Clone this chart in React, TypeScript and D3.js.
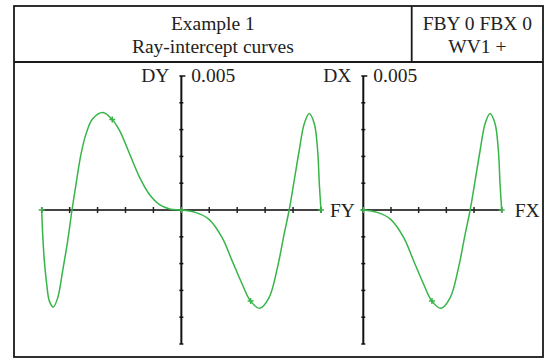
import React from "react";
import * as d3 from "d3";

// ray-intercept curve, tangential fan: [FY, DY]
const fyValues = [
  -1, -0.993, -0.981, -0.964, -0.945, -0.917, -0.885, -0.85, -0.814, -0.783,
  -0.754, -0.718, -0.682, -0.634, -0.562, -0.495, -0.443, -0.371, -0.299,
  -0.228, -0.156, -0.084, 0, 0.1, 0.196, 0.292, 0.364, 0.436, 0.496, 0.561,
  0.628, 0.688, 0.736, 0.772, 0.808, 0.844, 0.88, 0.916, 0.952, 0.976, 0.988,
  1,
];
const dyValues = [
  0, -0.0009, -0.0019, -0.00277, -0.0034, -0.00362, -0.00327, -0.00227,
  -0.00115, 0, 0.00097, 0.0021, 0.00285, 0.00341, 0.00364, 0.00338, 0.00297,
  0.0021, 0.00122, 0.00058, 0.0002, 0.00004, 0, -0.00009, -0.00034, -0.00103,
  -0.0019, -0.00277, -0.0034, -0.00367, -0.00327, -0.00215, -0.0009, 0,
  0.0011, 0.00222, 0.00322, 0.0036, 0.00322, 0.00222, 0.00097, 0,
];

// sagittal fan: [FX, DX]
const fxValues = [
  0, 0.1, 0.196, 0.292, 0.364, 0.436, 0.496, 0.561, 0.628, 0.688, 0.736,
  0.772, 0.808, 0.844, 0.88, 0.916, 0.952, 0.976, 0.988, 1,
];
const dxValues = [
  0, -0.00009, -0.00034, -0.00103, -0.0019, -0.00277, -0.0034, -0.00367,
  -0.00327, -0.00215, -0.0009, 0, 0.0011, 0.00222, 0.00322, 0.0036, 0.00322,
  0.00222, 0.00097, 0,
];

// traced rays marked with "+"
const fyMarks = [-1, -0.495, 0, 0.496, 1];
const dyMarks = [0, 0.00338, 0, -0.0034, 0];
const fxMarks = [0, 0.496, 1];
const dxMarks = [0, -0.0034, 0];

const fyTicks = d3.range(-1, 1.0001, 0.2);
const fxTicks = d3.range(0, 1.0001, 0.2);
const dTicks = d3.range(-0.005, 0.00501, 0.001);

const titleLines = ["Example 1", "Ray-intercept curves"];
const infoLines = ["FBY 0 FBX 0", "WV1 +"];

const green = "#37b548";
const font = "'Liberation Serif', 'Times New Roman', serif";

export default function App() {
  const width = 547;
  const height = 358;
  const box = { left: 14, top: 6, right: 543, bottom: 357, header: 62, split: 411.7 };

  const yScale = d3.scaleLinear().domain([-0.005, 0.005]).range([344, 76]);
  const xLeft = d3.scaleLinear().domain([-1, 1]).range([41.7, 321]);
  const xRight = d3.scaleLinear().domain([0, 1]).range([363.3, 501.7]);

  const panel = (
    xScale: d3.ScaleLinear<number, number>,
    xs: number[],
    ys: number[],
    mx: number[],
    my: number[],
    ticks: number[],
    yName: string,
    xName: string,
    xNameGap: number
  ) => {
    const x0 = xScale(0);
    const y0 = yScale(0);
    const [xa, xb] = xScale.range();
    const line = d3
      .line<number>()
      .x((_, i) => xScale(xs[i]))
      .y((d) => yScale(d))
      .curve(d3.curveCatmullRom.alpha(0.5));
    return (
      <g>
        {/* x axis */}
        <line x1={xa} x2={xb} y1={y0} y2={y0} stroke="#444" strokeWidth={2} />
        {ticks.map((t, i) => (
          <line
            key={i}
            x1={xScale(t)}
            x2={xScale(t)}
            y1={y0 - 3}
            y2={y0 + 3}
            stroke="#222"
            strokeWidth={1.5}
          />
        ))}
        {/* y axis */}
        <line x1={x0} x2={x0} y1={yScale(0.005)} y2={yScale(-0.005)} stroke="#111" strokeWidth={2} />
        {dTicks.map((t, i) => (
          <line
            key={i}
            x1={x0 - 2}
            x2={x0 + (i === dTicks.length - 1 ? 4 : 2)}
            y1={yScale(t)}
            y2={yScale(t)}
            stroke="#111"
            strokeWidth={1.5}
          />
        ))}
        <path d={line(ys) || ""} fill="none" stroke={green} strokeWidth={1.5} />
        {mx.map((m, i) => (
          <path
            key={i}
            d={`M${xScale(m) - 3},${yScale(my[i])}h6M${xScale(m)},${yScale(my[i]) - 3}v6`}
            stroke={green}
            strokeWidth={1.5}
          />
        ))}
        <text x={x0 - 12} y={82} textAnchor="end" fontSize={19.5}>
          {yName}
        </text>
        <text x={x0 + 10} y={82} fontSize={19.5}>
          0.005
        </text>
        <text x={xb + xNameGap} y={y0 + 7} fontSize={19.5}>
          {xName}
        </text>
      </g>
    );
  };

  return (
    <svg
      width={width}
      height={height}
      style={{ position: "absolute", left: 0, top: 0, background: "#fff" }}
      fontFamily={font}
      fill="#222"
    >
      <rect
        x={box.left}
        y={box.top}
        width={box.right - box.left}
        height={box.bottom - box.top}
        fill="none"
        stroke="#1a1a1a"
        strokeWidth={1.8}
      />
      <line x1={box.left} x2={box.right} y1={box.header} y2={box.header} stroke="#1a1a1a" strokeWidth={1.8} />
      <line x1={box.split} x2={box.split} y1={box.top} y2={box.header} stroke="#1a1a1a" strokeWidth={1.8} />
      {titleLines.map((t, i) => (
        <text key={t} x={(box.left + box.split) / 2} y={29.5 + i * 23} textAnchor="middle" fontSize={19.5}>
          {t}
        </text>
      ))}
      {infoLines.map((t, i) => (
        <text key={t} x={(box.split + box.right) / 2} y={29.5 + i * 23} textAnchor="middle" fontSize={19.5}>
          {t}
        </text>
      ))}
      {panel(xLeft, fyValues, dyValues, fyMarks, dyMarks, fyTicks, "DY", "FY", 9)}
      {panel(xRight, fxValues, dxValues, fxMarks, dxMarks, fxTicks, "DX", "FX", 13)}
    </svg>
  );
}
